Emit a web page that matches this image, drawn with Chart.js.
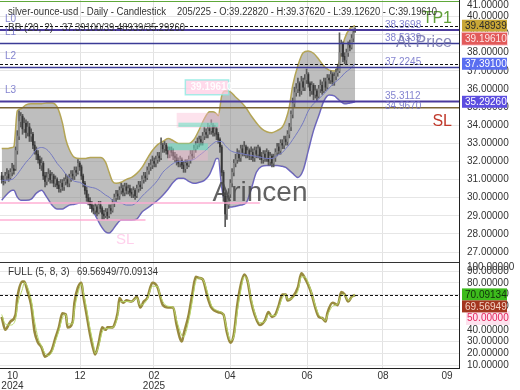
<!DOCTYPE html>
<html>
<head>
<meta charset="utf-8">
<script src="https://cdn.jsdelivr.net/npm/chart.js@4.4.1/dist/chart.umd.min.js"></script>
<style>
body{margin:0;background:#fff}
</style>
</head>
<body>
<canvas id="myChart" width="520" height="390"></canvas>
<script>
// daily candles, bar index 0..204
var opens=[31.2,31.0,30.9,31.2,31.3,31.1,31.4,31.6,31.6,32.6,
33.4,34.2,34.5,33.8,34.1,33.6,33.9,33.4,33.5,32.9,
32.6,32.4,32.1,31.8,31.9,31.2,30.9,31.1,31.3,31.0,
31.2,30.8,31.0,30.7,30.5,30.8,30.6,30.9,31.0,30.8,
31.1,31.3,31.2,31.5,31.4,31.9,31.7,31.2,30.8,30.4,
30.0,29.8,29.6,29.4,29.3,29.5,29.2,29.6,29.4,29.1,
29.0,29.2,29.0,29.4,29.3,29.7,30.0,30.2,30.1,30.4,
30.5,30.3,30.6,30.4,30.5,30.3,30.2,30.4,30.1,30.5,
30.7,30.6,31.0,31.2,31.1,31.5,31.7,31.8,32.0,31.9,
32.1,32.3,32.2,32.9,32.7,32.9,32.6,32.4,32.6,32.5,
32.3,32.2,32.0,31.9,32.1,31.8,31.6,31.9,31.8,32.1,
32.4,32.3,32.7,32.9,33.0,33.2,33.1,33.4,33.6,33.5,
33.8,33.7,34.0,33.6,33.8,33.5,33.2,32.8,31.4,30.1,
29.1,29.6,30.2,30.8,31.4,31.9,32.1,32.4,32.2,32.7,
32.5,32.8,32.4,32.6,32.3,32.5,32.2,32.6,32.4,32.7,
32.3,32.1,32.4,32.2,32.5,32.0,32.3,31.9,32.2,32.5,
32.8,32.6,33.0,32.9,33.2,33.1,33.5,33.9,34.6,35.2,
35.8,36.0,36.3,35.9,36.4,36.1,36.5,36.8,36.3,35.9,
36.2,35.7,35.9,35.6,36.0,36.2,35.9,36.4,36.1,36.6,
36.5,36.8,36.4,36.7,36.9,37.0,38.0,38.5,37.8,37.6,
38.0,38.4,38.3,38.8,39.2282];
var highs=[31.4,31.2,31.4,31.6,31.5,31.6,31.9,31.8,32.8,33.7,
34.8,34.7,34.6,34.4,34.3,34.2,34.1,33.8,33.6,33.1,
32.8,32.6,32.3,32.2,32.0,31.4,31.4,31.6,31.5,31.4,
31.3,31.2,31.1,30.9,31.0,31.0,31.1,31.3,31.2,31.3,
31.5,31.5,31.7,31.7,32.1,32.0,31.8,31.3,30.9,30.6,
30.2,30.0,29.8,29.6,29.7,29.6,29.8,29.8,29.5,29.3,
29.4,29.4,29.6,29.6,29.9,30.2,30.4,30.4,30.6,30.8,
30.7,30.8,30.8,30.7,30.7,30.5,30.6,30.5,30.7,30.9,
30.9,31.2,31.4,31.4,31.7,31.9,32.1,32.3,32.2,32.3,
32.5,32.5,33.3,33.0,33.1,33.0,32.8,32.8,32.8,32.7,
32.5,32.4,32.2,32.3,32.2,32.0,32.1,32.1,32.3,32.6,
32.6,32.9,33.1,33.3,33.4,33.4,33.6,33.9,33.8,34.1,
34.0,34.3,34.1,34.0,33.9,33.6,33.3,32.9,31.5,30.3,
30.1,30.5,31.0,31.6,32.1,32.4,32.7,32.6,32.9,32.9,
33.1,32.9,32.8,32.7,32.8,32.7,32.8,32.8,32.9,32.8,
32.5,32.6,32.6,32.7,32.6,32.5,32.4,32.4,32.7,33.0,
33.0,33.2,33.2,33.4,33.4,33.7,34.1,34.8,35.5,36.1,
36.3,36.6,36.4,36.7,36.6,36.8,37.1,36.9,36.4,36.4,
36.3,36.2,36.0,36.2,36.5,36.4,36.6,36.6,36.8,36.8,
37.0,36.9,36.9,37.1,37.3,39.1,38.7,38.6,38.0,38.2,
38.6,38.7,39.0,39.3,39.3762];
var lows=[30.8,30.7,30.8,31.0,30.9,31.0,31.2,31.3,31.5,32.4,
33.2,33.9,33.5,33.6,33.3,33.4,33.1,33.1,32.7,32.4,
32.1,31.9,31.6,31.5,31.0,30.6,30.7,30.9,30.8,30.8,
30.6,30.6,30.5,30.3,30.3,30.4,30.4,30.7,30.6,30.6,
30.9,31.0,31.0,31.2,31.3,31.5,31.0,30.6,30.2,29.8,
29.6,29.4,29.2,29.1,29.1,29.0,29.1,29.2,28.8,28.8,
28.9,28.8,28.9,29.1,29.2,29.5,29.8,29.9,29.9,30.2,
30.1,30.1,30.2,30.2,30.1,30.0,30.0,29.9,30.0,30.3,
30.4,30.5,30.8,30.9,31.0,31.3,31.5,31.6,31.7,31.7,
31.9,32.0,32.1,32.5,32.5,32.4,32.2,32.2,32.3,32.1,
32.0,31.8,31.7,31.7,31.6,31.4,31.4,31.6,31.7,31.9,
32.1,32.2,32.5,32.7,32.8,32.9,32.9,33.2,33.3,33.3,
33.5,33.5,33.4,33.4,33.2,33.0,32.5,31.2,29.8,28.4,
28.8,29.4,30.0,30.6,31.2,31.7,31.9,32.0,32.0,32.3,
32.3,32.2,32.2,32.1,32.1,32.0,32.0,32.2,32.2,32.1,
31.9,31.9,32.0,32.0,31.8,31.8,31.7,31.7,32.0,32.3,
32.4,32.4,32.7,32.7,32.9,32.9,33.3,33.7,34.4,35.0,
35.6,35.8,35.6,35.7,35.9,35.9,36.3,36.1,35.6,35.7,
35.4,35.5,35.3,35.5,35.8,35.7,35.8,35.9,36.0,36.3,
36.3,36.2,36.2,36.5,36.7,36.9,37.8,37.5,37.4,37.4,
37.8,38.1,38.2,38.6,39.1262];
var closes=[31.0,30.9,31.2,31.3,31.1,31.4,31.6,31.5,32.6,33.4,
34.2,34.5,33.8,34.1,33.6,33.9,33.4,33.5,32.9,32.6,
32.4,32.1,31.8,31.9,31.2,30.9,31.1,31.3,31.0,31.2,
30.8,31.0,30.7,30.5,30.8,30.6,30.9,31.0,30.8,31.1,
31.3,31.2,31.5,31.4,31.9,31.7,31.2,30.8,30.4,30.0,
29.8,29.6,29.4,29.3,29.5,29.2,29.6,29.4,29.1,29.0,
29.2,29.0,29.4,29.3,29.7,30.0,30.2,30.1,30.4,30.5,
30.3,30.6,30.4,30.5,30.3,30.2,30.4,30.1,30.5,30.7,
30.6,31.0,31.2,31.1,31.5,31.7,31.8,32.0,31.9,32.1,
32.3,32.2,32.9,32.7,32.9,32.6,32.4,32.6,32.5,32.3,
32.2,32.0,31.9,32.1,31.8,31.6,31.9,31.8,32.1,32.4,
32.3,32.7,32.9,33.0,33.2,33.1,33.4,33.6,33.5,33.8,
33.7,34.0,33.6,33.8,33.5,33.2,32.8,31.4,30.1,29.1,
29.6,30.2,30.8,31.4,31.9,32.1,32.4,32.2,32.7,32.5,
32.8,32.4,32.6,32.3,32.5,32.2,32.6,32.4,32.7,32.3,
32.1,32.4,32.2,32.5,32.0,32.3,31.9,32.2,32.5,32.8,
32.6,33.0,32.9,33.2,33.1,33.5,33.9,34.6,35.2,35.8,
36.0,36.3,35.9,36.4,36.1,36.5,36.8,36.3,35.9,36.2,
35.7,35.9,35.6,36.0,36.2,35.9,36.4,36.1,36.6,36.5,
36.8,36.4,36.7,36.9,37.0,38.0,38.5,37.8,37.6,38.0,
38.4,38.3,38.8,39.1,39.1961];

// Bollinger (20,2) read at these bars
var bbBars=[0,3,6,7,9,11,14,17,20,23,26,29,32,35,37,39,42,45,48,51,
54,57,60,62,64,66,69,72,75,78,81,84,87,90,93,96,99,102,105,108,
111,114,117,120,122,124,125,127,129,132,135,138,141,144,147,150,153,156,159,162,
164,166,168,171,174,177,180,183,186,189,192,194,196,198,201,204];
var bbUpper=[32.71,32.71,32.77,32.82,34.79,34.90,35.12,35.18,35.18,35.18,
35.23,35.23,35.01,34.14,33.21,32.66,32.22,32.16,32.16,32.22,
32.22,32.22,31.95,31.40,30.90,30.79,30.85,31.01,31.12,31.34,
31.67,32.16,32.60,32.93,33.10,33.26,33.15,32.99,32.99,32.99,
33.21,33.75,34.36,34.74,34.74,34.63,34.52,35.62,35.89,35.84,
35.56,35.29,34.96,34.52,34.14,33.81,33.64,33.59,33.70,33.90,
34.30,35.00,36.20,37.30,38.00,38.10,37.97,37.64,37.26,37.04,
36.99,37.26,37.97,38.79,39.34,39.48939];
var bbMid=[30.96,30.96,31.01,31.07,31.29,31.56,31.95,32.27,32.66,32.77,
32.66,32.33,31.89,31.56,31.29,31.12,30.90,30.85,30.68,30.58,
30.52,30.36,30.14,30.03,29.86,29.75,29.70,29.59,29.59,29.75,
30.08,30.36,30.63,30.96,31.40,31.67,31.89,32.00,32.00,32.05,
32.11,32.33,32.55,32.82,32.99,33.10,33.10,33.10,32.88,32.60,
32.49,32.44,32.38,32.33,32.27,32.22,32.16,32.16,32.33,32.49,
32.71,32.93,33.21,33.64,34.14,34.79,35.18,35.45,35.73,36.05,
36.33,36.49,36.66,36.88,37.10,37.391];
var bbLower=[29.86,30.19,30.41,30.41,30.03,29.86,29.86,29.92,30.25,30.41,
30.03,29.59,29.37,29.37,29.48,29.59,29.64,29.70,29.70,29.59,
29.04,28.49,28.11,28.05,28.22,28.49,28.77,28.77,28.77,28.82,
29.21,29.42,29.64,29.86,30.14,30.47,30.85,31.07,31.07,30.90,
30.79,30.85,30.96,31.29,31.73,32.16,32.16,30.58,29.70,29.48,
29.53,29.59,29.70,30.47,31.40,31.73,31.78,31.78,31.78,31.73,
31.67,31.51,31.34,31.12,31.51,32.60,33.70,34.52,35.34,35.67,
35.62,35.45,35.29,35.18,35.23,35.2926];

// Full stochastic (5,8,3) read at these bars
var stochBars=[0,2,5,8,9,12,13,15,17,19,21,23,25,27,29,31,33,35,37,38,
41,42,44,46,47,49,51,53,54,56,58,60,61,64,65,67,68,70,72,75,
78,80,82,84,87,90,91,93,96,99,101,104,105,108,110,112,114,116,119,121,
125,128,130,132,134,136,138,140,142,144,146,149,152,154,156,158,160,162,164,165,
168,171,173,175,177,179,181,183,185,187,188,191,194,196,198,200,202,204];
var stochK=[51,40,47,53,67,81,81,72,61,38,29,25,17,19,23,33,42,54,53,42,
47,63,76,80,70,53,36,23,19,29,42,40,42,42,44,55,67,63,65,64,
68,59,64,67,80,76,71,61,59,59,44,30,36,53,70,85,84,83,67,59,
55,53,38,29,36,61,78,87,81,64,53,44,48,55,51,53,61,70,70,65,
68,76,88,84,78,70,59,51,50,47,54,63,61,72,70,64,68,69.56949];
var stochD=[53,45,44,49,60,75,80,76,66,47,33,26,20,18,21,30,39,50,53,45,
45,57,71,79,73,58,41,27,20,26,38,41,41,42,43,52,63,64,64,64,
67,61,62,66,77,77,72,64,60,59,48,35,34,48,64,81,84,83,71,61,
56,53,41,31,34,55,73,85,82,67,55,46,47,53,52,52,59,67,70,66,
67,73,85,85,80,71,61,53,50,48,52,60,62,69,70,65,67,70.09134];

// axes
var mainTicks=[27,28,29,30,31,32,33,34,35,36,37,38,39,40];
var stochTicks=[10,20,30,40,50,60,70,80,90];
var monthPos=[6.2,45.2,87.9,131.8,176.3,220.1,257.1];
var monthLabels=[["10","2024"],"12",["02","2025"],"04","06","08","09"];

// levels
var tp1=40.86;
var levelVals=[39.25,38.5339,37.2245,35.3112];
var levelNames=["L0","L1","L2","L3"];
var levelTexts=["38.3698","38.5339","37.2245","35.3112"];
var slVal=34.967;
var bbNow=[37.391,39.48939,35.2926];
var stochNow=[69.56949,70.09134];
var stochLevel=70;

var FONT="'Liberation Sans', Arial, sans-serif";
Chart.defaults.font.family=FONT;

var wick=[],body=[];
for(var i=0;i<closes.length;i++){
  wick.push({x:i,y:[lows[i],highs[i]]});
  body.push({x:i,y:[opens[i],closes[i]]});
}
function pts(xs,ys){return xs.map(function(b,k){return {x:b,y:ys[k]};});}
var last=closes.length-1;

var decor={
  id:'decor',
  afterDatasetsDraw:function(chart){
    var c=chart.ctx,xs=chart.scales.x,ys=chart.scales.y,y2=chart.scales.y2,a=chart.chartArea;
    var L=a.left,R=a.right;
    function py(v){return ys.getPixelForValue(v);}
    function bx(b){return xs.getPixelForValue(b);}
    function hline(y,col,w,dash,x0,x1){
      c.beginPath();c.setLineDash(dash||[]);c.strokeStyle=col;c.lineWidth=w;
      c.moveTo(x0==null?L:x0,y);c.lineTo(x1==null?R:x1,y);c.stroke();c.setLineDash([]);
    }
    c.save();
    c.beginPath();c.rect(L,ys.top,R-L,ys.bottom-ys.top);c.clip();
    // faint ghost marks
    c.fillStyle='rgba(250,185,210,0.40)';
    c.fillRect(bx(101),py(34.68),bx(126)-bx(101),py(33.86)-py(34.68));
    c.fillRect(bx(96),py(32.62),bx(119)-bx(96),py(32.05)-py(32.62));
    c.fillStyle='rgba(100,225,195,0.55)';
    c.fillRect(bx(102),py(34.14),bx(125)-bx(102),py(33.9)-py(34.14));
    c.fillRect(bx(96),py(33.0),bx(119)-bx(96),py(32.62)-py(33.0));
    hline(py(29.7),'rgba(255,170,210,0.7)',2,null,L,bx(149));
    hline(py(28.77),'rgba(255,170,210,0.7)',2,null,L,bx(83));
    c.fillStyle='rgba(255,205,228,0.75)';
    c.fillRect(bx(106),py(36.5),bx(131)-bx(106),py(35.68)-py(36.5));
    c.strokeStyle='rgba(130,235,225,0.7)';c.lineWidth=1.5;
    c.strokeRect(bx(106),py(36.5),bx(131)-bx(106),py(35.68)-py(36.5));
    c.fillStyle='rgba(255,255,255,0.95)';c.font='bold 10px '+FONT;c.textBaseline='middle';c.textAlign='left';
    c.fillText(closes[last].toFixed(5),bx(109),py(36.09));
    c.fillStyle='rgba(255,170,220,0.55)';c.font='15px '+FONT;
    c.fillText('SL',bx(66),py(27.65));

    // level lines
    hline(Math.round(py(tp1))+0.5,'#5fa83a',1);
    hline(Math.round(py(bbNow[1]))+0.5,'#111',1,[3,2]);
    hline(py(levelVals[0]),'#4a3a9c',2);
    hline(Math.round(py(levelVals[1]))+0.5,'#3b3b96',1.3);
    hline(Math.round(py(bbNow[0]))+0.5,'#111',1,[3,2]);
    hline(Math.round(py(levelVals[2]))+0.5,'#3b3b96',1.3);
    hline(py(levelVals[3]),'#4a3a9c',2);
    hline(py(slVal),'#7a6434',1.5);

    c.font='10px '+FONT;c.textAlign='left';c.textBaseline='alphabetic';
    c.fillStyle='rgba(110,110,200,0.85)';
    for(var k=0;k<levelVals.length;k++){
      c.fillText(levelTexts[k],bx(221.3),py(levelVals[k])-2);
      c.fillText(levelNames[k],L+5,py(levelVals[k])-8);
    }
    c.fillText(slVal.toFixed(4),bx(221.3),py(slVal)+1);

    c.font='16px '+FONT;c.textAlign='right';c.textBaseline='middle';
    c.fillStyle='#5f9e38';c.fillText('TP1',R-7,py(tp1)+18);
    c.fillStyle='rgba(120,120,175,0.9)';c.fillText('At Price',R-7,py(levelVals[1]));
    c.fillStyle='#c0392b';c.fillText('SL',R-7,py(slVal)+14);

    c.font='28px '+FONT;c.textAlign='center';
    c.fillStyle='rgba(70,70,70,0.85)';c.fillText('Arincen',260,193);
    c.restore();

    // stochastic level
    c.save();
    hline(Math.round(y2.getPixelForValue(stochLevel))+0.5,'#111',1.2,[3,2]);
    // panel separator
    hline(Math.round(y2.top)+0.5,'#333',1);
    c.restore();

    // header texts
    c.save();
    c.fillStyle='#333';c.font='10px '+FONT;c.textBaseline='middle';c.textAlign='left';
    c.fillText('silver-ounce-usd - Daily - Candlestick',L+8,12,158);
    c.fillText((last+1)+'/225 - O:'+opens[last].toFixed(5)+' - H:'+highs[last].toFixed(5)+' - L:'+lows[last].toFixed(5)+' - C:'+closes[last].toFixed(5),L+177,12,260);
    c.fillText('BB (20, 2)',L+8,28);
    c.fillText(bbNow[0].toFixed(5)+'/'+bbNow[1].toFixed(5)+'/'+bbNow[2].toFixed(5),L+62,28,123);
    c.fillText('FULL (5, 8, 3)',L+8,y2.top+10);
    c.fillText(stochNow[0].toFixed(5)+'/'+stochNow[1].toFixed(5),L+77,y2.top+10,81);
    c.restore();
  },
  afterDraw:function(chart){
    var c=chart.ctx,ys=chart.scales.y,y2=chart.scales.y2,a=chart.chartArea;
    var X=a.right+3;
    c.save();
    c.font='10px '+FONT;c.textBaseline='middle';c.textAlign='left';
    c.fillStyle='#333';
    c.fillText((41).toFixed(5),X+5,ys.top+5);
    c.fillText((100).toFixed(5),X+5,y2.top+5);
    function tag(yc,txt,bg,fg){
      c.fillStyle=bg;c.fillRect(X,yc-6,45,12);
      c.fillStyle=fg;c.fillText(txt,X+3,yc+0.5);
    }
    var t1=ys.getPixelForValue(bbNow[1]);
    tag(t1,bbNow[1].toFixed(5),'#c8a636','#2b2b2b');
    var t2=Math.max(ys.getPixelForValue(closes[last]),t1+13);
    c.fillStyle='#fbd3dc';c.fillRect(X-1,t2-7,47,14);
    tag(t2,closes[last].toFixed(5),'#e25a5a','#fde6e6');
    tag(ys.getPixelForValue(bbNow[0]),bbNow[0].toFixed(5),'#5a6ef0','#ffffff');
    tag(ys.getPixelForValue(bbNow[2]),bbNow[2].toFixed(5),'#5c4ee0','#ffffff');
    var s1=y2.getPixelForValue(stochNow[1]);
    tag(s1,stochNow[1].toFixed(5),'#3dbb1c','#10300a');
    tag(s1+12,stochNow[0].toFixed(5),'#a3361f','#f3d2c4');
    c.restore();
  }
};

function fixY(s){s.width=61;s.paddingTop=0;s.paddingBottom=0;}

new Chart(document.getElementById('myChart'),{
  type:'line',
  data:{datasets:[
    {label:'upper',data:pts(bbBars,bbUpper),yAxisID:'y',borderColor:'#b4a556',borderWidth:1.5,
     backgroundColor:'rgba(125,125,125,0.5)',fill:'+1',pointRadius:0,cubicInterpolationMode:'monotone',order:6},
    {label:'lower',data:pts(bbBars,bbLower),yAxisID:'y',borderColor:'#6a62cc',borderWidth:1.5,
     fill:false,pointRadius:0,cubicInterpolationMode:'monotone',order:6},
    {label:'mid',data:pts(bbBars,bbMid),yAxisID:'y',borderColor:'#7479c0',borderWidth:1,
     fill:false,pointRadius:0,cubicInterpolationMode:'monotone',order:1},
    {type:'bar',label:'wick',data:wick,yAxisID:'y',backgroundColor:'#5a5a5a',barThickness:1,grouped:false,order:3},
    {type:'bar',label:'body',data:body,yAxisID:'y',grouped:false,barThickness:1.2,order:2,
     backgroundColor:function(ctx){var j=ctx.dataIndex;return closes[j]>=opens[j]?'#8a8a8a':'#363636';}},
    {label:'K',data:pts(stochBars,stochK),yAxisID:'y2',borderColor:'#988a3e',borderWidth:2.6,
     fill:false,pointRadius:0,cubicInterpolationMode:'monotone',order:1},
    {label:'D',data:pts(stochBars,stochD),yAxisID:'y2',borderColor:'#b9d86c',borderWidth:1,
     fill:false,pointRadius:0,cubicInterpolationMode:'monotone',order:0}
  ]},
  options:{
    responsive:false,animation:false,devicePixelRatio:1,
    layout:{padding:0},
    plugins:{legend:{display:false},tooltip:{enabled:false}},
    scales:{
      x:{type:'linear',min:-1,max:264,offset:false,
        afterBuildTicks:function(s){s.ticks=monthPos.map(function(v){return {value:v};});},
        afterFit:function(s){s.height=22;s.paddingLeft=0;s.paddingRight=0;},
        ticks:{autoSkip:false,maxRotation:0,padding:3,color:'#333',font:{size:10,lineHeight:1},
          callback:function(v,i){return monthLabels[i];}},
        grid:{offset:false,drawTicks:false,color:function(ctx){return (ctx.index===0||ctx.index===monthPos.length-1)?'rgba(0,0,0,0)':'#e2e2e2';}},
        border:{display:true,color:'#222'}},
      y:{type:'linear',position:'right',stack:'p',stackWeight:262,min:26.45,max:40.91,
        afterBuildTicks:function(s){s.ticks=mainTicks.map(function(v){return {value:v};});},
        afterFit:fixY,
        ticks:{autoSkip:false,padding:8,color:'#333',font:{size:10},callback:function(v){return Number(v).toFixed(5);}},
        grid:{drawTicks:false,color:'#e6e6e6'},
        border:{display:true,color:'#222'}},
      y2:{type:'linear',position:'right',stack:'p',stackWeight:106,min:7.45,max:97.66,
        afterBuildTicks:function(s){s.ticks=stochTicks.map(function(v){return {value:v};});},
        afterFit:fixY,
        ticks:{autoSkip:false,padding:8,font:{size:10},
          color:function(ctx){return ctx.tick&&ctx.tick.value===50?'#e5245c':'#333';},
          showLabelBackdrop:function(ctx){return !!(ctx.tick&&ctx.tick.value===50);},
          backdropColor:'#fde2ee',backdropPadding:1,
          callback:function(v){return Number(v).toFixed(5);}},
        grid:{drawTicks:false,color:'#e6e6e6'},
        border:{display:true,color:'#222'}}
    }
  },
  plugins:[decor]
});
</script>
</body>
</html>
